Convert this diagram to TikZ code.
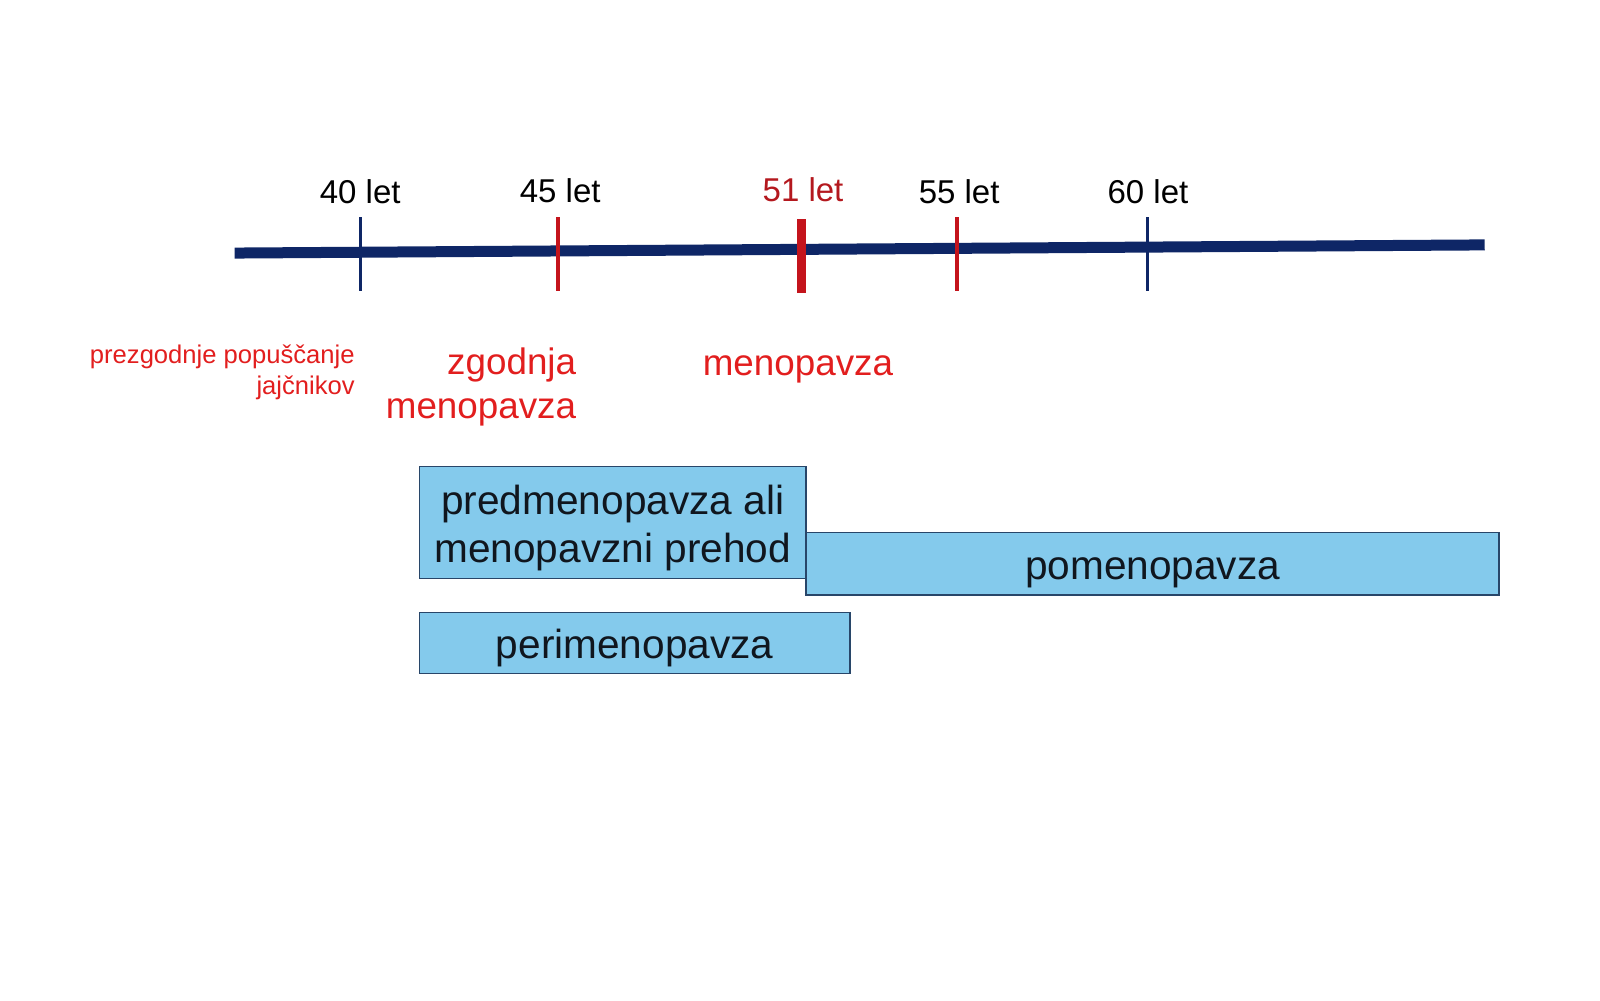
\documentclass[tikz,border=0pt]{standalone}
\usepackage{fontspec}
\setmainfont{Liberation Sans}
\definecolor{navy}{RGB}{14,38,102}
\definecolor{tickred}{RGB}{196,20,28}
\definecolor{darkred}{RGB}{180,24,30}
\definecolor{labred}{RGB}{226,30,30}
\definecolor{boxfill}{RGB}{132,202,236}
\definecolor{boxline}{RGB}{40,70,105}
\definecolor{boxtext}{RGB}{16,22,30}
\tikzset{
  axisline/.style={draw=navy, line width=5.5pt},
  navytick/.style={draw=navy, line width=1.5pt},
  redtick/.style={draw=tickred, line width=2pt},
  bigtick/.style={draw=tickred, line width=4.5pt},
  agelabel/.style={anchor=base, inner sep=0pt, font=\fontsize{16.5}{19}\selectfont},
  smallred/.style={anchor=base east, inner sep=0pt, align=right, text=labred, font=\fontsize{12.8}{15.8}\selectfont},
  bigred/.style={inner sep=0pt, text=labred, font=\fontsize{18.4}{21.9}\selectfont},
  phasebox/.style={draw=boxline, line width=0.7pt, fill=boxfill, inner sep=0pt},
  boxlabel/.style={inner sep=0pt, align=center, text=boxtext, font=\fontsize{20.3}{24}\selectfont},
}
\begin{document}
\begin{tikzpicture}[x=0.5102pt, y=-0.5102pt]
\useasboundingbox (0,0) rectangle (1568,980);
% axis
\coordinate (axL) at (230,248);
\coordinate (axR) at (1455,240);
\draw[axisline] (axL) -- (axR);
% ticks
\coordinate (t40a) at (353,213); \coordinate (t40b) at (353,285);
\coordinate (t45a) at (547,213); \coordinate (t45b) at (547,285);
\coordinate (t51a) at (785,215); \coordinate (t51b) at (785,287);
\coordinate (t55a) at (938,213); \coordinate (t55b) at (938,285);
\coordinate (t60a) at (1125,213); \coordinate (t60b) at (1125,285);
\draw[navytick] (t40a) -- (t40b);
\draw[redtick] (t45a) -- (t45b);
\draw[bigtick] (t51a) -- (t51b);
\draw[redtick] (t55a) -- (t55b);
\draw[navytick] (t60a) -- (t60b);
% age labels
\node[agelabel] (l40) at (353,199) {40 let};
\node[agelabel] (l45) at (549,198) {45 let};
\node[agelabel, text=darkred] (l51) at (787,197) {51 let};
\node[agelabel] (l55) at (940,199) {55 let};
\node[agelabel] (l60) at (1125,199) {60 let};
% red labels
\node[smallred] (prez) at (348,387) {prezgodnje popuščanje\\jajčnikov};
\node[bigred, anchor=base east, align=right] (zgod) at (565,410) {zgodnja\\menopavza};
\node[bigred, anchor=base] (meno) at (782,368) {menopavza};
% phase boxes
\node[phasebox, minimum width=193.4pt, minimum height=56.1pt] (pred) at (600.5,512) {};
\node[phasebox, minimum width=346.4pt, minimum height=31.1pt] (pome) at (1129.5,552.5) {};
\node[phasebox, minimum width=215.3pt, minimum height=30.6pt] (peri) at (622,630) {};
\node[boxlabel] (predt) at (600.5,517) {predmenopavza ali\\menopavzni prehod};
\node[boxlabel] (pomet) at (1129.5,561) {pomenopavza};
\node[boxlabel] (perit) at (622,635) {perimenopavza};
\end{tikzpicture}
\end{document}
